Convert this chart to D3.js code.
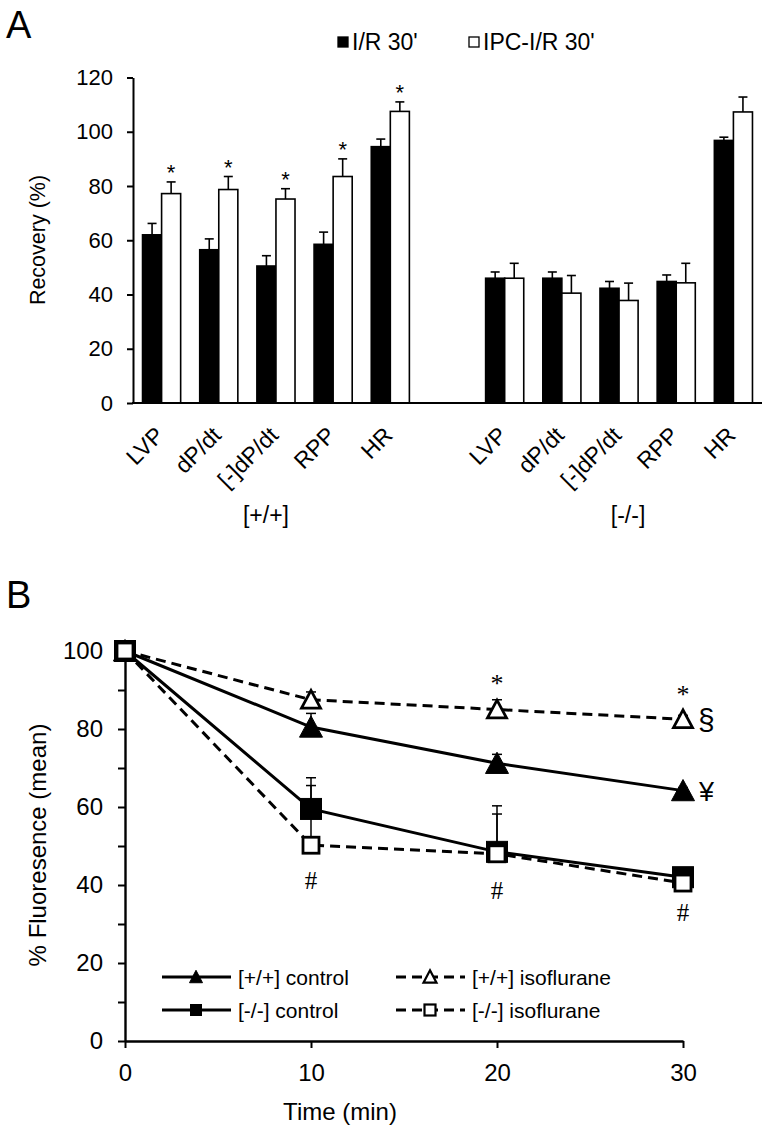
<!DOCTYPE html>
<html><head><meta charset="utf-8">
<script src="https://cdn.jsdelivr.net/npm/d3@7/dist/d3.min.js"></script>
<style>body{margin:0;background:#fff} svg{display:block}</style>
</head><body>
<svg id="c" width="768" height="1131"></svg>
<script>
// ---------- Panel A data ----------
const groups = ["[+/+]", "[-/-]"];
const params = ["LVP", "dP/dt", "[-]dP/dt", "RPP", "HR"];
const seriesA = ["I/R 30'", "IPC-I/R 30'"];
const irMean  = [62, 56.5, 50.5, 58.5, 94.5, 46, 46, 42.3, 44.8, 96.8];
const irErr   = [66.2, 60.5, 54.3, 63, 97.3, 48.3, 48.3, 44.8, 47.2, 98];
const ipcMean = [77.2, 78.7, 75.2, 83.5, 107.5, 46, 40.5, 37.8, 44.3, 107.3];
const ipcErr  = [81.5, 83.5, 79, 90, 111, 51.5, 47, 44.2, 51.5, 112.8];
const ipcSig  = [1, 1, 1, 1, 1, 0, 0, 0, 0, 0];
const yTicksA = [0, 20, 40, 60, 80, 100, 120];

// ---------- Panel B data ----------
const times = [0, 10, 20, 30];
const seriesB = ["[+/+] control", "[+/+] isoflurane", "[-/-] control", "[-/-] isoflurane"];
const wtControl    = [100, 80.5, 71.2, 64.2];
const wtControlErr = [100, 84, 73.5, 65];
const wtIso        = [100, 87.5, 85, 82.5];
const wtIsoErr     = [100, 89.5, 87.5, 83.5];
const koControl    = [100, 59.5, 48.5, 42];
const koControlErr = [100, 67.5, 60.3, 42.5];
const koIso        = [100, 50.2, 48, 40.5];
const koIsoErr     = [100, 65.5, 58.2, 41];
const yTicksB = [0, 10, 20, 30, 40, 50, 60, 70, 80, 90, 100];
const yLabelsB = [0, 20, 40, 60, 80, 100];
const xTicksB = [0, 10, 20, 30];

const svg = d3.select("#c");
const FA = "'Liberation Sans', Arial, sans-serif";
const FS = "'Liberation Serif', 'Times New Roman', serif";

// ================= Panel A =================
svg.append("text").attr("x", 6).attr("y", 38).attr("font-family", FA)
  .attr("font-size", 38).text("A");

const slots = d3.range(11);
const xA = d3.scaleBand().domain(slots).range([133, 762]);
const xSub = d3.scaleBand().domain(seriesA).range([0, xA.bandwidth()]).paddingOuter(0.5);
const yA = d3.scaleLinear().domain([0, 120]).range([403, 77.5]);
const slotOf = i => i < 5 ? i : i + 1;

const dataA = [];
for (let i = 0; i < 10; i++) {
  dataA.push({i, s: seriesA[0], v: irMean[i], e: irErr[i], sig: 0});
  dataA.push({i, s: seriesA[1], v: ipcMean[i], e: ipcErr[i], sig: ipcSig[i]});
}
const gA = svg.append("g");
gA.selectAll(".eb").data(dataA).join("g").each(function(d) {
  const cx = xA(slotOf(d.i)) + xSub(d.s) + xSub.bandwidth() / 2;
  const g = d3.select(this);
  g.append("line").attr("x1", cx).attr("x2", cx).attr("y1", yA(d.v)).attr("y2", yA(d.e))
    .attr("stroke", "#000").attr("stroke-width", 1.6);
  g.append("line").attr("x1", cx - 4.5).attr("x2", cx + 4.5).attr("y1", yA(d.e)).attr("y2", yA(d.e))
    .attr("stroke", "#000").attr("stroke-width", 1.6);
  if (d.sig) g.append("text").attr("x", cx).attr("y", yA(d.e) - 2).attr("text-anchor", "middle")
    .attr("font-family", FA).attr("font-size", 22).text("*");
});
gA.selectAll("rect.bar").data(dataA).join("rect").attr("class", "bar")
  .attr("x", d => xA(slotOf(d.i)) + xSub(d.s))
  .attr("width", xSub.bandwidth())
  .attr("y", d => yA(d.v))
  .attr("height", d => yA(0) - yA(d.v))
  .attr("fill", d => d.s === seriesA[0] ? "#000" : "#fff")
  .attr("stroke", "#000").attr("stroke-width", 1.6);

const axA = svg.append("g").attr("transform", "translate(133,0)")
  .call(d3.axisLeft(yA).tickValues(yTicksA).tickSize(6).tickSizeOuter(0).tickPadding(14));
axA.select(".domain").attr("stroke-width", 2);
axA.selectAll(".tick line").attr("stroke-width", 2);
axA.selectAll(".tick text").attr("font-family", FA).attr("font-size", 22).attr("fill", "#000");
svg.append("line").attr("x1", 132).attr("x2", 762).attr("y1", 403).attr("y2", 403)
  .attr("stroke", "#000").attr("stroke-width", 2.2);

for (let i = 0; i < 10; i++) {
  const cx = xA(slotOf(i)) + xA.bandwidth() / 2;
  svg.append("text").attr("transform", `translate(${cx - 2},${431}) rotate(-45)`)
    .attr("text-anchor", "end").attr("dy", "0.35em")
    .attr("font-family", FA).attr("font-size", 23).text(params[i % 5]);
}
const groupX = [xA(2) + xA.bandwidth() / 2 - 10, xA(8) + xA.bandwidth() / 2 + 9];
groups.forEach((g, k) => {
  svg.append("text").attr("x", groupX[k]).attr("y", 523).attr("text-anchor", "middle")
    .attr("font-family", FA).attr("font-size", 23).text(g);
});
svg.append("text").attr("transform", "translate(45,240) rotate(-90)")
  .attr("text-anchor", "middle").attr("font-family", FA).attr("font-size", 21.5).text("Recovery (%)");

const legA = [{x: 338, fill: "#000"}, {x: 469, fill: "#fff"}];
seriesA.forEach((s, k) => {
  svg.append("rect").attr("x", legA[k].x).attr("y", 37).attr("width", 10).attr("height", 10)
    .attr("fill", legA[k].fill).attr("stroke", "#000").attr("stroke-width", 1.3);
  svg.append("text").attr("x", legA[k].x + 14).attr("y", 49.5).attr("font-family", FA)
    .attr("font-size", 23).text(s);
});

// ================= Panel B =================
svg.append("text").attr("x", 6).attr("y", 608).attr("font-family", FA)
  .attr("font-size", 38).text("B");

const xB = d3.scaleLinear().domain([0, 30]).range([125, 683]);
const yB = d3.scaleLinear().domain([0, 100]).range([1041, 651]);

const axBy = svg.append("g").attr("transform", "translate(125,0)")
  .call(d3.axisLeft(yB).tickValues(yTicksB).tickSize(7).tickSizeOuter(0).tickPadding(15)
    .tickFormat(d => yLabelsB.includes(d) ? d : ""));
axBy.select(".domain").attr("stroke-width", 2.4);
axBy.selectAll(".tick line").attr("stroke-width", 2);
axBy.selectAll(".tick text").attr("font-family", FA).attr("font-size", 24).attr("fill", "#000");

const axBx = svg.append("g").attr("transform", "translate(0,1041)")
  .call(d3.axisBottom(xB).tickValues(xTicksB).tickSize(7).tickSizeOuter(0).tickPadding(16));
axBx.select(".domain").attr("stroke-width", 2.4);
axBx.selectAll(".tick line").attr("stroke-width", 2);
axBx.selectAll(".tick text").attr("font-family", FA).attr("font-size", 24).attr("fill", "#000");

svg.append("text").attr("x", 340).attr("y", 1120).attr("text-anchor", "middle")
  .attr("font-family", FA).attr("font-size", 24).text("Time (min)");
svg.append("text").attr("transform", "translate(46,845) rotate(-90)")
  .attr("text-anchor", "middle").attr("font-family", FA).attr("font-size", 24).text("% Fluoresence (mean)");

const linesB = [
  {name: seriesB[0], v: wtControl, e: wtControlErr, dash: null, shape: "tri", fill: "#000"},
  {name: seriesB[1], v: wtIso, e: wtIsoErr, dash: "10,6", shape: "tri", fill: "#fff"},
  {name: seriesB[2], v: koControl, e: koControlErr, dash: null, shape: "sq", fill: "#000"},
  {name: seriesB[3], v: koIso, e: koIsoErr, dash: "10,6", shape: "sq", fill: "#fff"}
];
const line = d3.line().x((d, i) => xB(times[i])).y(d => yB(d));
const gB = svg.append("g");
linesB.forEach(L => {
  gB.append("path").attr("d", line(L.v)).attr("fill", "none").attr("stroke", "#000")
    .attr("stroke-width", 3).attr("stroke-dasharray", L.dash);
});
linesB.forEach(L => {
  L.v.forEach((v, i) => {
    if (L.e[i] - v < 0.3) return;
    const cx = xB(times[i]);
    gB.append("line").attr("x1", cx).attr("x2", cx).attr("y1", yB(v)).attr("y2", yB(L.e[i]))
      .attr("stroke", "#000").attr("stroke-width", 1.5);
    gB.append("line").attr("x1", cx - 5).attr("x2", cx + 5).attr("y1", yB(L.e[i])).attr("y2", yB(L.e[i]))
      .attr("stroke", "#000").attr("stroke-width", 1.5);
  });
});
function marker(g, shape, fill, cx, cy, s, sw) {
  if (shape === "tri") {
    const h = s * 0.88;
    g.append("path").attr("d", `M${cx},${cy - h / 2 - 1}L${cx + s / 2},${cy + h / 2}L${cx - s / 2},${cy + h / 2}Z`)
      .attr("fill", fill).attr("stroke", "#000").attr("stroke-width", fill === "#fff" ? sw : 1)
      .attr("stroke-linejoin", "miter");
  } else {
    g.append("rect").attr("x", cx - s / 2).attr("y", cy - s / 2).attr("width", s).attr("height", s)
      .attr("fill", fill).attr("stroke", "#000").attr("stroke-width", fill === "#fff" ? sw : 1);
  }
}
linesB.forEach(L => {
  L.v.forEach((v, i) => {
    const s = L.shape === "tri" ? (L.fill === "#000" ? 23 : 19) : (L.fill === "#000" ? 21 : 16);
    marker(gB, L.shape, L.fill, xB(times[i]), yB(v), s, 2.8);
  });
});

const annB = [
  {t: "*", x: xB(20), y: yB(87.5) - 8, f: FS, s: 26, a: "middle"},
  {t: "*", x: xB(30), y: yB(84) - 10, f: FS, s: 26, a: "middle"},
  {t: "§", x: xB(30) + 15, y: yB(82.5) + 11, f: FA, s: 30, a: "start"},
  {t: "¥", x: xB(30) + 16, y: yB(64.2) + 10, f: FA, s: 27, a: "start"},
  {t: "#", x: xB(10), y: yB(50.2) + 44, f: FS, s: 25, a: "middle"},
  {t: "#", x: xB(20), y: yB(48) + 45, f: FS, s: 25, a: "middle"},
  {t: "#", x: xB(30), y: yB(40.5) + 38, f: FS, s: 25, a: "middle"}
];
annB.forEach(a => svg.append("text").attr("x", a.x).attr("y", a.y).attr("text-anchor", a.a)
  .attr("font-family", a.f).attr("font-size", a.s).text(a.t));

const legB = [
  {L: linesB[0], x: 162, y: 977}, {L: linesB[1], x: 396, y: 977},
  {L: linesB[2], x: 162, y: 1010}, {L: linesB[3], x: 396, y: 1010}
];
legB.forEach(o => {
  svg.append("line").attr("x1", o.x).attr("x2", o.x + 69).attr("y1", o.y).attr("y2", o.y)
    .attr("stroke", "#000").attr("stroke-width", 3).attr("stroke-dasharray", o.L.dash);
  marker(svg, o.L.shape, o.L.fill, o.x + 34, o.y, o.L.shape === "tri" ? 13 : 11, 2.2);
  svg.append("text").attr("x", o.x + 76).attr("y", o.y + 8).attr("font-family", FA)
    .attr("font-size", 21).text(o.L.name);
});
</script>
</body></html>
